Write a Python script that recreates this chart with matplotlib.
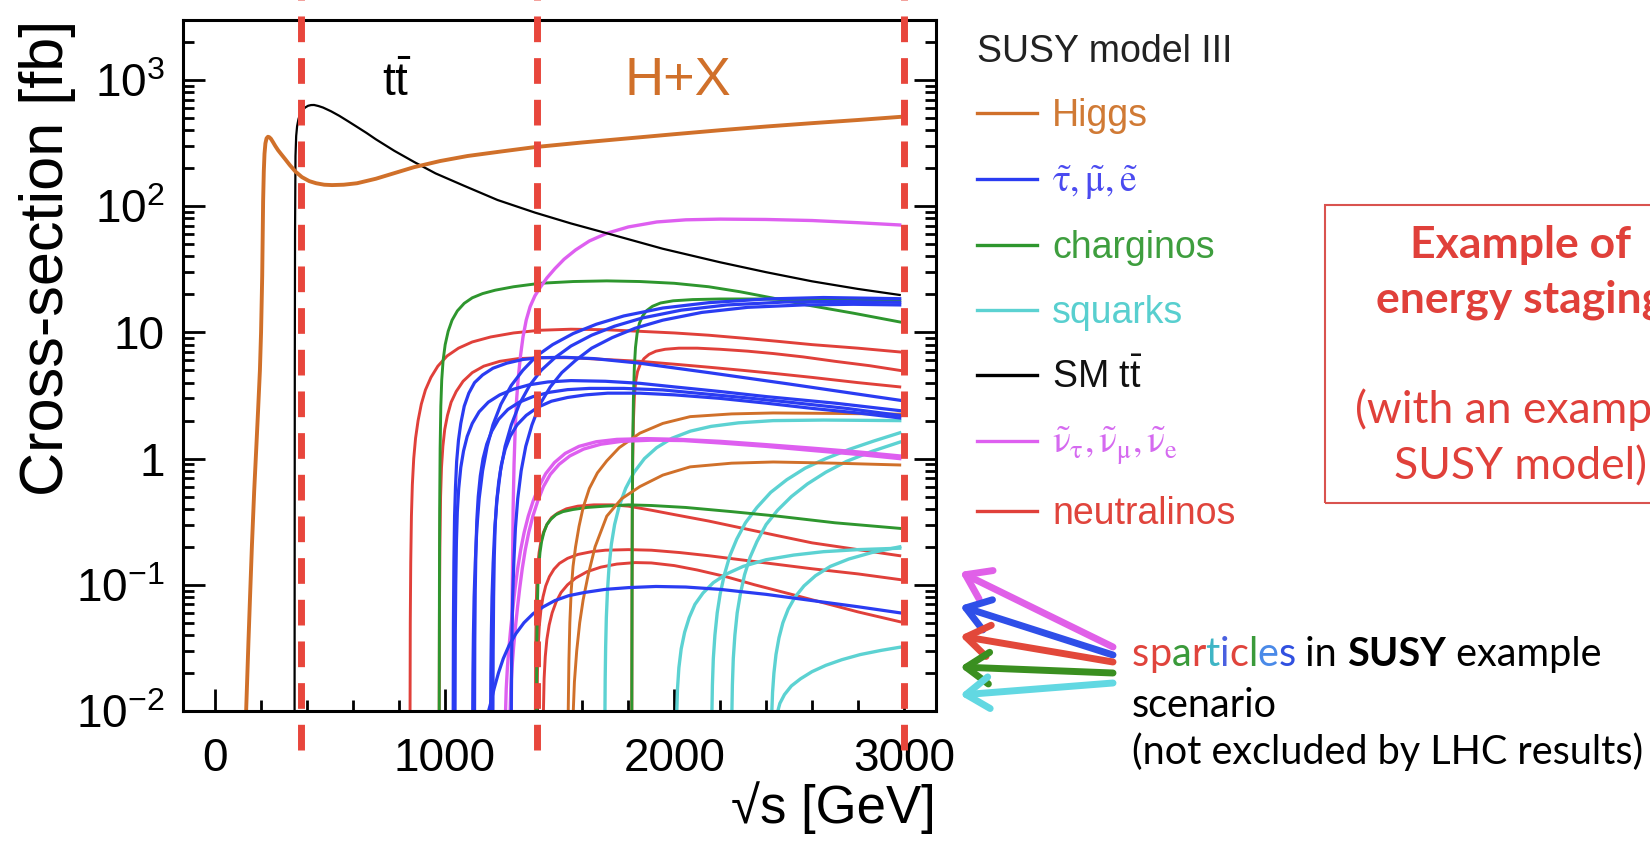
import numpy as np
import matplotlib
matplotlib.use("Agg")
import matplotlib.pyplot as plt
from matplotlib.lines import Line2D
from matplotlib.patches import Rectangle, FancyArrowPatch
from matplotlib.ticker import FixedLocator, MultipleLocator, LogLocator, NullFormatter

plt.rcParams['font.family'] = ['Liberation Sans', 'DejaVu Sans']
plt.rcParams['mathtext.fontset'] = 'custom'
plt.rcParams['mathtext.rm'] = 'Liberation Sans'
plt.rcParams['mathtext.it'] = 'Liberation Sans:italic'
plt.rcParams['mathtext.bf'] = 'Liberation Sans:bold'
plt.rcParams['mathtext.sf'] = 'Liberation Sans'

# ---------------- data (sqrt(s) in GeV, cross-section in fb) ----------------
stage_energies = [375, 1400, 3000]

higgs_x = [135, 145, 152, 160, 170, 180, 187, 195, 200, 205, 209, 212, 215, 219, 224, 230, 236,
           243, 252, 262, 274, 288, 305, 325, 350, 378, 410, 440, 475, 509, 560, 618, 700, 790,
           867, 980, 1100, 1250, 1393, 1600, 1800, 2000, 2200, 2400, 2600, 2800, 2982]
higgs_y = [0.01, 0.035, 0.08, 0.2, 0.55, 1.3, 2.4, 5, 10, 28, 110, 190, 260, 315, 345, 355, 352,
           342, 322, 300, 278, 258, 236, 212, 188, 170, 158, 152, 148, 147, 148, 152, 165, 185,
           204, 228, 250, 272, 294, 320, 345, 372, 400, 428, 455, 482, 510]

ttbar_x = [346, 346.5, 347, 348, 350, 353, 357, 363, 370, 380, 392, 405, 418, 431, 450, 470, 505,
           541, 580, 618, 660, 700, 780, 867, 960, 1085, 1230, 1393, 1550, 1707, 1950, 2198,
           2400, 2600, 2800, 2982]
ttbar_y = [0.01, 0.3, 5, 60, 250, 360, 430, 490, 535, 575, 605, 625, 633, 634, 622, 605, 565,
           520, 470, 425, 380, 339, 275, 224, 182, 145, 112, 89, 73, 61, 46, 36,
           30, 25.4, 22.1, 19.8]

heavy_higgs_curves = [
    ([1538, 1541, 1545, 1551, 1559, 1570, 1585, 1603, 1630, 1665, 1706, 1760, 1850, 1950, 2069,
      2250, 2431, 2700, 2982],
     [0.01, 0.025, 0.05, 0.09, 0.14, 0.2, 0.29, 0.41, 0.58, 0.77, 0.96, 1.22, 1.59, 1.9, 2.15,
      2.26, 2.3, 2.28, 2.25]),
    ([1560, 1565, 1575, 1588, 1603, 1625, 1655, 1706, 1770, 1850, 1950, 2069, 2250, 2431, 2700, 2982],
     [0.01, 0.017, 0.03, 0.05, 0.076, 0.12, 0.2, 0.35, 0.48, 0.6, 0.74, 0.86, 0.92, 0.94, 0.92, 0.89]),
]

slepton_curves = [
    ([1037, 1038, 1040, 1043, 1047, 1052, 1060, 1070, 1085, 1105, 1130, 1165, 1210, 1270, 1340,
      1415, 1520, 1650, 1850, 2150, 2500, 2982],
     [0.01, 0.05, 0.15, 0.35, 0.6, 0.95, 1.4, 1.9, 2.6, 3.3, 4.0, 4.6, 5.2, 5.7, 6.1,
      6.3, 6.35, 6.2, 5.7, 4.8, 3.9, 2.9]),
    ([1122, 1123, 1125, 1128, 1133, 1140, 1150, 1165, 1185, 1210, 1245, 1290, 1340, 1400, 1470,
      1560, 1660, 1780, 1950, 2150, 2400, 2650, 2982],
     [0.01, 0.02, 0.04, 0.08, 0.15, 0.28, 0.48, 0.8, 1.25, 1.85, 2.7, 3.8, 5.0, 6.5, 8.0,
      9.8, 11.6, 13.5, 15.6, 17.2, 18.4, 18.9, 18.5]),
    ([1200, 1201, 1203, 1206, 1211, 1218, 1228, 1243, 1263, 1290, 1325, 1370, 1420, 1480, 1550,
      1640, 1740, 1860, 2030, 2230, 2480, 2720, 2982],
     [0.01, 0.02, 0.04, 0.08, 0.15, 0.28, 0.48, 0.8, 1.25, 1.85, 2.7, 3.8, 5.0, 6.3, 7.8,
      9.5, 11.2, 13.0, 15.0, 16.5, 17.4, 17.6, 17.3]),
    ([1290, 1291, 1293, 1296, 1301, 1308, 1318, 1333, 1353, 1380, 1415, 1460, 1510, 1570, 1640,
      1730, 1830, 1950, 2120, 2320, 2560, 2780, 2982],
     [0.01, 0.02, 0.04, 0.08, 0.15, 0.28, 0.48, 0.8, 1.25, 1.85, 2.7, 3.7, 4.8, 6.0, 7.5,
      9.1, 10.8, 12.5, 14.4, 15.8, 16.5, 16.7, 16.5]),
    ([1045, 1046, 1048, 1051, 1055, 1061, 1070, 1082, 1098, 1120, 1150, 1190, 1240, 1300, 1370,
      1450, 1550, 1700, 1850, 2000, 2200, 2400, 2700, 2982],
     [0.01, 0.04, 0.1, 0.22, 0.38, 0.58, 0.85, 1.15, 1.5, 1.9, 2.35, 2.8, 3.2, 3.55, 3.85,
      4.05, 4.15, 4.1, 3.95, 3.7, 3.4, 3.1, 2.75, 2.4]),
    ([1130, 1131, 1133, 1136, 1140, 1146, 1155, 1167, 1183, 1205, 1235, 1275, 1325, 1385, 1455,
      1535, 1630, 1780, 1950, 2100, 2300, 2500, 2750, 2982],
     [0.01, 0.035, 0.09, 0.19, 0.33, 0.5, 0.73, 1.0, 1.3, 1.65, 2.05, 2.45, 2.8, 3.1, 3.35,
      3.52, 3.6, 3.6, 3.5, 3.3, 3.05, 2.8, 2.5, 2.2]),
    ([1210, 1211, 1213, 1216, 1220, 1226, 1235, 1247, 1263, 1285, 1315, 1355, 1405, 1465, 1535,
      1615, 1710, 1850, 2000, 2200, 2400, 2600, 2800, 2982],
     [0.01, 0.03, 0.08, 0.17, 0.3, 0.45, 0.65, 0.9, 1.18, 1.5, 1.85, 2.2, 2.55, 2.85, 3.05,
      3.2, 3.3, 3.3, 3.2, 3.0, 2.75, 2.5, 2.3, 2.1]),
    ([1191, 1200, 1215, 1234, 1255, 1280, 1310, 1345, 1385, 1430, 1480, 1540, 1610, 1700, 1800,
      1920, 2050, 2200, 2400, 2600, 2800, 2982],
     [0.01, 0.0115, 0.015, 0.02, 0.026, 0.033, 0.041, 0.05, 0.059, 0.067, 0.075, 0.082, 0.087,
      0.092, 0.095, 0.097, 0.096, 0.092, 0.084, 0.075, 0.067, 0.06]),
]

chargino_curves = [
    ([976, 977, 978, 980, 983, 987, 993, 1002, 1015, 1032, 1055, 1085, 1120, 1165, 1220, 1300,
      1415, 1560, 1706, 1850, 2000, 2150, 2286, 2430, 2577, 2780, 2982],
     [0.01, 0.1, 0.4, 1.2, 2.6, 4.2, 6.0, 8.0, 10.2, 12.5, 14.8, 17, 18.8, 20.3, 21.6, 23.0,
      24.5, 25.3, 25.6, 25.3, 24.5, 23.0, 21, 18.7, 16.5, 14.2, 12.1]),
    ([1400, 1401, 1403, 1406, 1410, 1415, 1422, 1432, 1445, 1462, 1485, 1515, 1559, 1620, 1700,
      1800, 1900, 2050, 2250, 2450, 2700, 2982],
     [0.01, 0.03, 0.06, 0.1, 0.14, 0.18, 0.22, 0.26, 0.3, 0.33, 0.36, 0.38, 0.395, 0.41, 0.42,
      0.43, 0.425, 0.41, 0.38, 0.35, 0.31, 0.28]),
    ([1815, 1816, 1817, 1819, 1822, 1826, 1831, 1838, 1848, 1862, 1880, 1905, 1940, 1995, 2080,
      2200, 2350, 2550, 2750, 2982],
     [0.01, 0.1, 0.4, 1.3, 3, 5.3, 7.6, 9.8, 11.8, 13.5, 14.9, 16.1, 17.1, 17.8, 18.2,
      18.4, 18.4, 18.2, 18.0, 17.8]),
]

squark_curves = [
    ([1698, 1699, 1701, 1704, 1709, 1716, 1726, 1740, 1760, 1788, 1825, 1870, 1923, 1990, 2070,
      2160, 2280, 2431, 2650, 2982],
     [0.01, 0.018, 0.032, 0.055, 0.09, 0.14, 0.21, 0.3, 0.42, 0.58, 0.78, 1.0, 1.22, 1.45, 1.65,
      1.8, 1.92, 2.0, 2.02, 2.0]),
    ([2011, 2014, 2020, 2030, 2045, 2065, 2090, 2125, 2170, 2228, 2300, 2400, 2520, 2650, 2800, 2982],
     [0.01, 0.015, 0.022, 0.031, 0.042, 0.055, 0.07, 0.086, 0.104, 0.122, 0.14, 0.158, 0.172,
      0.183, 0.19, 0.195]),
    ([2164, 2166, 2170, 2177, 2187, 2200, 2218, 2242, 2272, 2310, 2360, 2420, 2490, 2570, 2660,
      2760, 2870, 2982],
     [0.01, 0.016, 0.026, 0.04, 0.06, 0.085, 0.12, 0.17, 0.23, 0.31, 0.41, 0.54, 0.68, 0.84, 1.0,
      1.18, 1.38, 1.6]),
    ([2251, 2253, 2257, 2264, 2274, 2288, 2306, 2330, 2360, 2400, 2450, 2510, 2580, 2660, 2750,
      2860, 2982],
     [0.01, 0.016, 0.026, 0.04, 0.06, 0.085, 0.12, 0.165, 0.22, 0.3, 0.39, 0.5, 0.63, 0.78, 0.95,
      1.14, 1.35]),
    ([2425, 2428, 2434, 2443, 2456, 2473, 2496, 2526, 2565, 2615, 2680, 2760, 2860, 2982],
     [0.01, 0.014, 0.02, 0.028, 0.038, 0.05, 0.064, 0.08, 0.098, 0.118, 0.14, 0.16, 0.18, 0.2]),
    ([2451, 2460, 2480, 2510, 2550, 2600, 2660, 2730, 2810, 2900, 2982],
     [0.01, 0.0115, 0.0135, 0.0158, 0.018, 0.0205, 0.023, 0.0255, 0.028, 0.0302, 0.032]),
]

sneutrino_curves = [
    ([1290, 1292, 1295, 1298, 1302, 1307, 1313, 1320, 1330, 1341, 1355, 1372, 1393, 1418, 1445,
      1480, 1520, 1570, 1630, 1706, 1800, 1924, 2050, 2200, 2400, 2600, 2800, 2982],
     [0.01, 0.04, 0.12, 0.4, 0.9, 1.7, 2.9, 4.3, 6.5, 9.2, 12.5, 16, 19.5, 23, 27,
      32, 38, 45, 53, 61, 68.5, 75, 78, 79, 78.5, 77, 74, 71]),
    ([1265, 1268, 1273, 1280, 1288, 1297, 1307, 1318, 1331, 1346, 1364, 1385, 1410, 1440, 1478,
      1525, 1585, 1660, 1750, 1880, 2024, 2200, 2400, 2600, 2800, 2982],
     [0.01, 0.015, 0.022, 0.032, 0.046, 0.066, 0.095, 0.135, 0.19, 0.26, 0.35, 0.46, 0.6, 0.76,
      0.93, 1.1, 1.25, 1.36, 1.42, 1.44, 1.42, 1.37, 1.29, 1.21, 1.13, 1.05]),
    ([1285, 1288, 1293, 1300, 1308, 1317, 1327, 1338, 1351, 1366, 1384, 1405, 1430, 1460, 1498,
      1545, 1605, 1680, 1770, 1900, 2040, 2200, 2400, 2600, 2800, 2982],
     [0.01, 0.015, 0.022, 0.032, 0.046, 0.066, 0.095, 0.135, 0.19, 0.26, 0.35, 0.46, 0.6, 0.75,
      0.9, 1.05, 1.19, 1.3, 1.37, 1.4, 1.39, 1.33, 1.25, 1.16, 1.08, 1.0]),
]

neutralino_curves = [
    ([849, 850, 852, 855, 859, 865, 873, 884, 898, 916, 940, 970, 1010, 1060, 1120, 1200, 1300,
      1415, 1550, 1700, 1850, 2000, 2150, 2300, 2450, 2600, 2800, 2982],
     [0.01, 0.05, 0.15, 0.35, 0.62, 1.0, 1.45, 2.0, 2.7, 3.5, 4.4, 5.4, 6.5, 7.5, 8.4, 9.2, 9.9,
      10.4, 10.6, 10.5, 10.2, 9.9, 9.5, 9.0, 8.5, 8.0, 7.5, 7.0]),
    ([976, 977, 979, 982, 986, 992, 1000, 1012, 1028, 1050, 1080, 1120, 1170, 1240, 1320, 1415,
      1550, 1700, 1850, 2000, 2150, 2300, 2450, 2600, 2800, 2982],
     [0.01, 0.06, 0.2, 0.5, 0.85, 1.25, 1.7, 2.2, 2.8, 3.4, 4.1, 4.8, 5.4, 5.9, 6.2, 6.3,
      6.3, 6.1, 5.9, 5.6, 5.3, 5.0, 4.7, 4.4, 4.0, 3.7]),
    ([1815, 1816, 1817, 1819, 1822, 1826, 1832, 1840, 1852, 1868, 1890, 1920, 1960, 2020, 2100,
      2200, 2320, 2431, 2560, 2700, 2850, 2982],
     [0.01, 0.1, 0.35, 1.0, 2.0, 3.1, 4.1, 4.9, 5.6, 6.2, 6.7, 7.1, 7.35, 7.5, 7.5,
      7.35, 7.1, 6.8, 6.4, 5.9, 5.45, 5.0]),
    ([1395, 1396, 1398, 1401, 1405, 1411, 1419, 1430, 1445, 1465, 1492, 1530, 1580, 1650, 1730,
      1800, 1900, 2000, 2150, 2300, 2450, 2600, 2800, 2982],
     [0.01, 0.03, 0.06, 0.1, 0.14, 0.18, 0.22, 0.26, 0.3, 0.34, 0.37, 0.4, 0.42, 0.43, 0.43,
      0.42, 0.39, 0.36, 0.32, 0.28, 0.245, 0.215, 0.19, 0.17]),
    ([1402, 1404, 1407, 1412, 1419, 1428, 1440, 1456, 1476, 1500, 1535, 1580, 1640, 1700, 1800,
      1900, 2025, 2150, 2300, 2450, 2600, 2800, 2982],
     [0.01, 0.02, 0.032, 0.047, 0.063, 0.08, 0.098, 0.116, 0.133, 0.148, 0.162, 0.174, 0.183,
      0.188, 0.19, 0.188, 0.18, 0.17, 0.157, 0.145, 0.134, 0.122, 0.11]),
    ([1430, 1433, 1438, 1445, 1455, 1468, 1485, 1507, 1535, 1570, 1620, 1680, 1750, 1830, 1900,
      2000, 2100, 2225, 2350, 2500, 2650, 2800, 2982],
     [0.01, 0.018, 0.027, 0.037, 0.048, 0.06, 0.073, 0.087, 0.1, 0.113, 0.127, 0.138, 0.146,
      0.15, 0.149, 0.142, 0.131, 0.116, 0.1, 0.085, 0.072, 0.061, 0.051]),
]

legend_labels = ['Higgs',
                 r'$\mathrm{\tilde{\tau}, \tilde{\mu}, \tilde{e}}$',
                 'charginos', 'squarks',
                 r'SM t$\bar{\mathrm{t}}$',
                 r'$\mathrm{\tilde{\nu}_{\tau}, \tilde{\nu}_{\mu}, \tilde{\nu}_{e}}$',
                 'neutralinos']
y_tick_values = [1e-2, 1e-1, 1, 10, 100, 1000]
y_tick_labels = [r'$\mathregular{10^{-2}}$', r'$\mathregular{10^{-1}}$', '1', '10',
                 r'$\mathregular{10^{2}}$', r'$\mathregular{10^{3}}$']
x_tick_values = [0, 1000, 2000, 3000]

# ---------------- styling ----------------
C_ORANGE = '#D0702A'
C_BLUE = '#2A3CF2'
C_GREEN = '#2E962E'
C_CYAN = '#5CD2D2'
C_MAGENTA = '#DE5FF0'
C_RED = '#E0403A'
C_DASH = '#E8463C'

W, H = 1650, 843
fig = plt.figure(figsize=(W / 100, H / 100), dpi=100)
fig.patch.set_facecolor('white')


def fx(px):
    return px / W


def fy(py):
    return 1 - py / H


ax = fig.add_axes([fx(183), fy(711), (936 - 183) / W, (711 - 20) / H])
ax.set_yscale('log')
ax.set_xlim(-140, 3140)
ax.set_ylim(0.01, 10 ** (3 + 60 / 126.2))

LW = 2.1
for cx, cy in neutralino_curves:
    ax.plot(cx, cy, color=C_RED, lw=LW)
for cx, cy in squark_curves:
    ax.plot(cx, cy, color=C_CYAN, lw=LW + 0.3)
for cx, cy in chargino_curves:
    ax.plot(cx, cy, color=C_GREEN, lw=LW)
for cx, cy in heavy_higgs_curves:
    ax.plot(cx, cy, color=C_ORANGE, lw=LW)
for cx, cy in sneutrino_curves:
    ax.plot(cx, cy, color=C_MAGENTA, lw=LW + 0.3)
for cx, cy in slepton_curves:
    ax.plot(cx, cy, color=C_BLUE, lw=LW + 0.2)
ax.plot(ttbar_x, ttbar_y, color='black', lw=1.6)
ax.plot(higgs_x, higgs_y, color=C_ORANGE, lw=2.8)

for e in stage_energies:
    ax.plot([e, e], [-0.056, 1.04], transform=ax.get_xaxis_transform(), clip_on=False,
            color=C_DASH, lw=5, dashes=(3.7, 2.3), zorder=6, dash_capstyle='butt')

# axes styling
for s in ax.spines.values():
    s.set_linewidth(2.2)
ax.xaxis.set_major_locator(FixedLocator(x_tick_values))
ax.xaxis.set_minor_locator(MultipleLocator(200))
ax.set_xticklabels([str(v) for v in x_tick_values])
ax.set_yticks(y_tick_values)
ax.set_yticklabels(y_tick_labels)
ax.yaxis.set_minor_locator(LogLocator(base=10, subs=np.arange(2, 10) * 1.0, numticks=20))
ax.yaxis.set_minor_formatter(NullFormatter())
ax.tick_params(which='both', direction='in', top=False, right=True, width=2)
ax.tick_params(which='major', length=16, labelsize=33)
ax.tick_params(which='minor', length=8)
ax.tick_params(axis='x', which='major', pad=19)
ax.tick_params(axis='y', which='major', pad=13)

ax.set_ylabel('Cross-section [fb]', fontsize=44, loc='top')
ax.yaxis.set_label_coords(-0.142, 1.0)
ax.set_xlabel('\u221as [GeV]', fontsize=38, loc='right')
ax.xaxis.set_label_coords(1.0, -0.102)

ax.text(790, 930, r't$\bar{\mathrm{t}}$', fontsize=33, ha='center', va='center', color='black')
ax.text(2016, 990, 'H+X', fontsize=39, ha='center', va='center', color=C_ORANGE)

# legend
handle_colors = [C_ORANGE, C_BLUE, C_GREEN, C_CYAN, 'black', C_MAGENTA, C_RED]
text_colors = ['#D07A35', '#4A4AF0', '#3E9E3E', '#58CFCF', '#111111', '#D56AF0', '#E0443C']
handles = [Line2D([], [], color=c, lw=2.4) for c in handle_colors]
leg = fig.legend(handles, legend_labels, loc='upper left', bbox_to_anchor=(fx(977), fy(34)),
                 frameon=False, fontsize=27, title='SUSY model III', title_fontsize=27,
                 alignment='left', handlelength=1.6, handletextpad=0.4, labelspacing=0.76,
                 borderpad=0, borderaxespad=0)
leg.get_title().set_color('#222222')
for t, c in zip(leg.get_texts(), text_colors):
    t.set_color(c)
leg.get_texts()[1].set_math_fontfamily('stix')
leg.get_texts()[5].set_math_fontfamily('stix')

# red box with text
BOX_RED = '#D9534F'
TXT_RED = '#E0403A'
fig.patches.append(Rectangle((fx(1325), fy(503)), fx(1720) - fx(1325), fy(205) - fy(503),
                             transform=fig.transFigure, fill=False, edgecolor=BOX_RED, lw=1.5))
fig.text(fx(1521), fy(258), 'Example of', fontsize=32, fontweight='bold', color=TXT_RED,
         ha='center', va='baseline', family='Lato')
fig.text(fx(1521), fy(313), 'energy staging', fontsize=32, fontweight='bold', color=TXT_RED,
         ha='center', va='baseline', family='Lato')
fig.text(fx(1521), fy(423), '(with an example', fontsize=32, color=TXT_RED,
         ha='center', va='baseline', family='Lato')
fig.text(fx(1521), fy(479), 'SUSY model)', fontsize=32, color=TXT_RED,
         ha='center', va='baseline', family='Lato')

# arrows pointing to sparticle curves
arrow_specs = [('#E060E8', (1113, 647), (960, 572)),
               ('#2F4FE8', (1113, 655), (960, 606)),
               ('#E2483A', (1113, 662), (960, 636)),
               ('#3A8F20', (1113, 673), (960, 667)),
               ('#62D8E2', (1113, 683), (960, 695))]
for col, tail, head in arrow_specs:
    arr = FancyArrowPatch((fx(tail[0]), fy(tail[1])), (fx(head[0]), fy(head[1])),
                          transform=fig.transFigure,
                          arrowstyle='->,head_length=0.55,head_width=0.38',
                          mutation_scale=30, lw=5, color=col, shrinkA=0, shrinkB=0)
    fig.patches.append(arr)

# multicoloured annotation
renderer = fig.canvas.get_renderer()
ANN = dict(fontsize=28.5, family='Lato')


def seg_width(s, **kw):
    t1 = fig.text(0, 0, s + '|', **kw)
    w1 = t1.get_window_extent(renderer).width
    t1.remove()
    t2 = fig.text(0, 0, '|', **kw)
    w2 = t2.get_window_extent(renderer).width
    t2.remove()
    return w1 - w2


spart_colors = ['#E0443C', '#E0443C', '#3A9A3A', '#E0443C', '#3FB5C5', '#4A60E0',
                '#E0443C', '#3A9A3A', '#4A8AE8', '#3050E0']
segments = [(ch, col, 'normal') for ch, col in zip('sparticles', spart_colors)]
segments += [(' in ', 'black', 'normal'), ('SUSY', 'black', 'bold'), (' example', 'black', 'normal')]
xpos = 1132
for s, col, wt in segments:
    fig.text(fx(xpos), fy(666), s, color=col, fontweight=wt, va='baseline', ha='left', **ANN)
    xpos += seg_width(s, fontweight=wt, **ANN)
fig.text(fx(1132), fy(717), 'scenario', color='black', va='baseline', ha='left', **ANN)
fig.text(fx(1132), fy(764), '(not excluded by LHC results)', color='black', va='baseline',
         ha='left', **ANN)

fig.savefig('out.png', dpi=100)
